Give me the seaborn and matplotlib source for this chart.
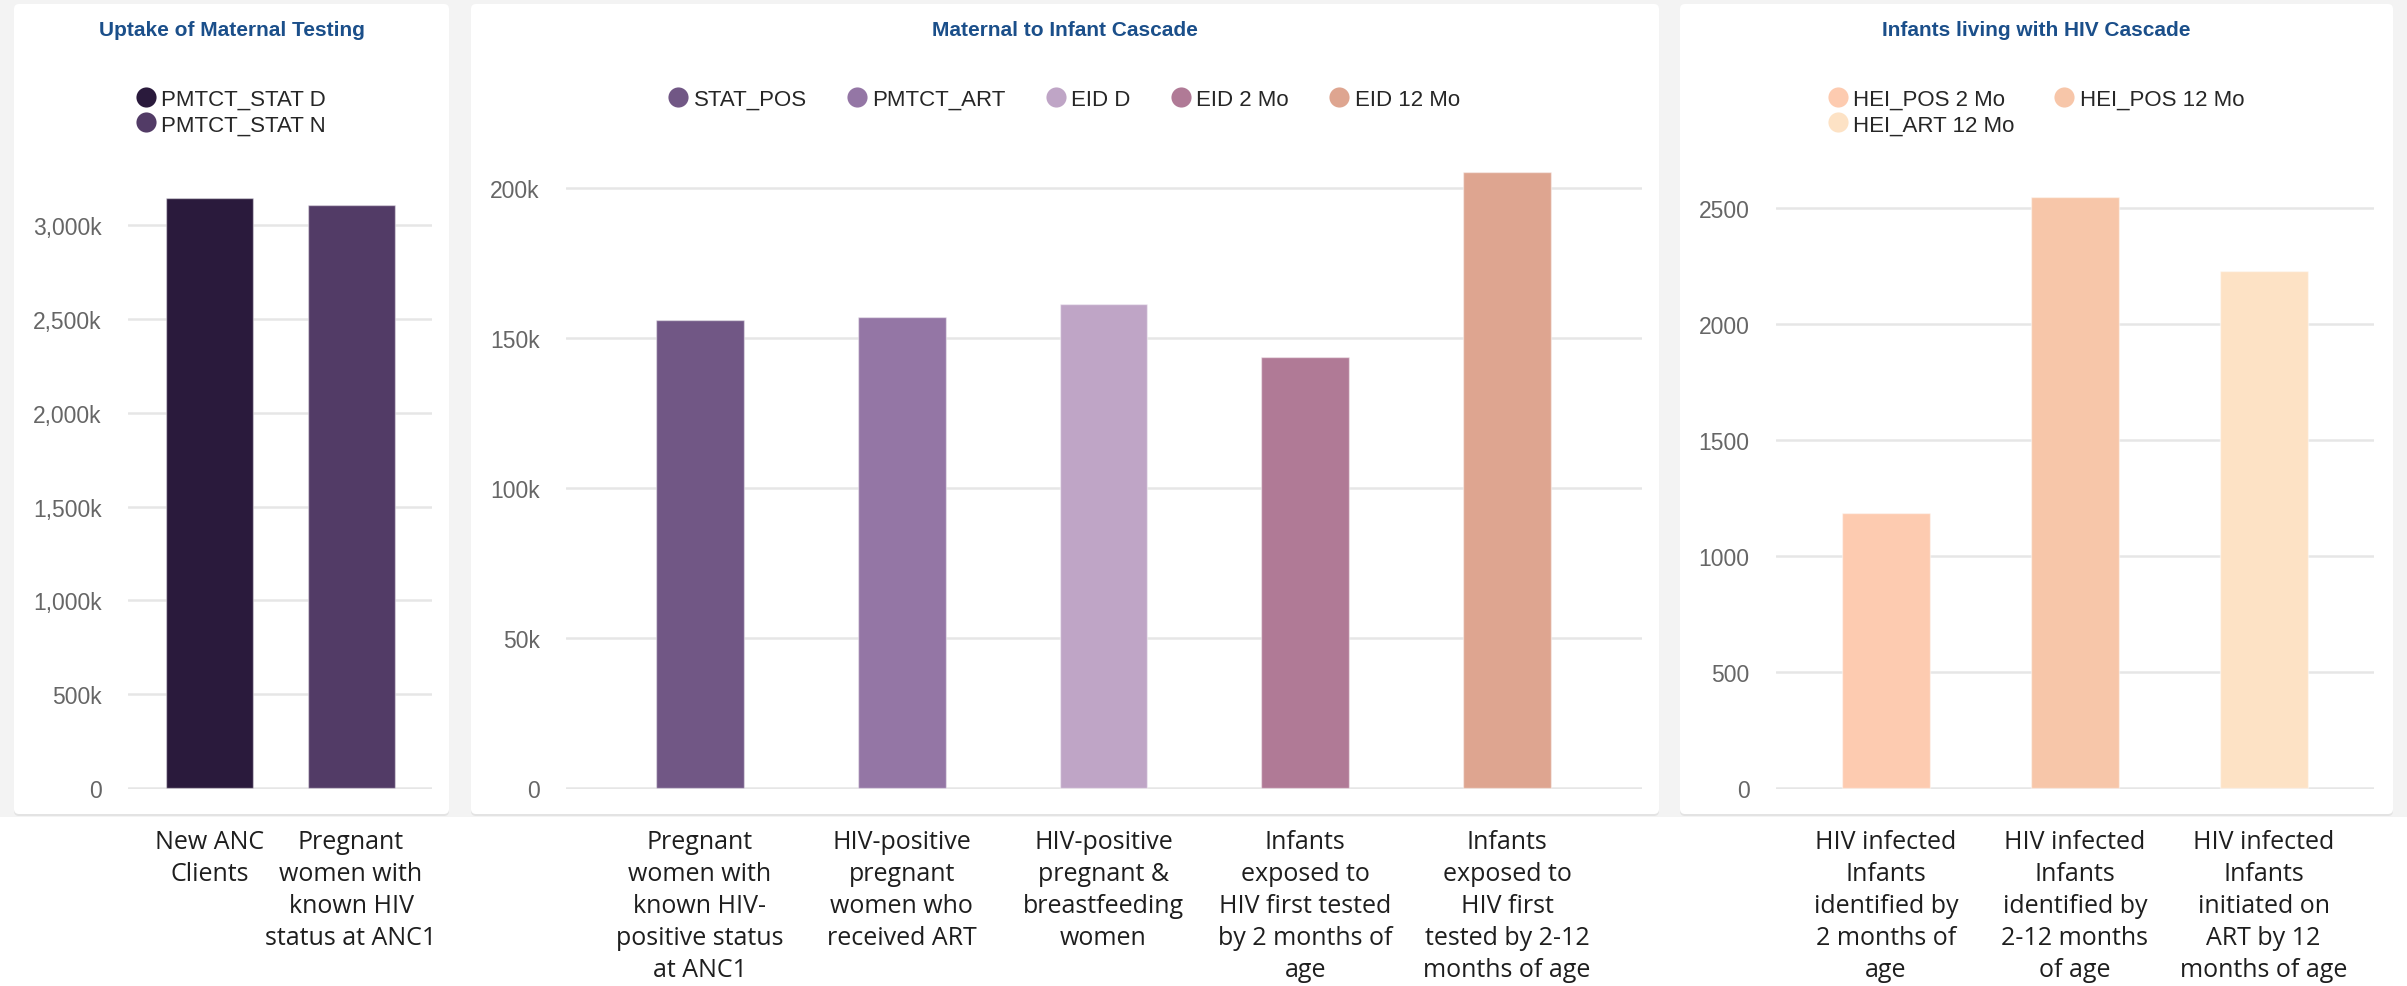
import matplotlib
matplotlib.use("Agg")
import matplotlib.pyplot as plt
import seaborn as sns
import pandas as pd
from matplotlib.patches import FancyBboxPatch, Rectangle
from matplotlib.lines import Line2D
from matplotlib.ticker import FuncFormatter, FixedLocator
from matplotlib.transforms import IdentityTransform

# ---- data -------------------------------------------------------------
uptake_title = "Uptake of Maternal Testing"
uptake_labels = ["New ANC\nClients",
                 "Pregnant\nwomen with\nknown HIV\nstatus at ANC1"]
uptake_series = ["PMTCT_STAT D", "PMTCT_STAT N"]
uptake_values = [3143000, 3106000]
uptake_colors = ["#2a1a3c", "#523b66"]
uptake_ticks = [0, 500000, 1000000, 1500000, 2000000, 2500000, 3000000]

cascade_title = "Maternal to Infant Cascade"
cascade_labels = ["Pregnant\nwomen with\nknown HIV-\npositive status\nat ANC1",
                  "HIV-positive\npregnant\nwomen who\nreceived ART",
                  "HIV-positive\npregnant &\nbreastfeeding\nwomen",
                  "Infants\nexposed to\nHIV first tested\nby 2 months of\nage",
                  "Infants\nexposed to\nHIV first\ntested by 2-12\nmonths of age"]
cascade_series = ["STAT_POS", "PMTCT_ART", "EID D", "EID 2 Mo", "EID 12 Mo"]
cascade_values = [156000, 157100, 161400, 143700, 205300]
cascade_colors = ["#715785", "#9476a5", "#bfa5c6", "#b07a96", "#dea590"]
cascade_ticks = [0, 50000, 100000, 150000, 200000]

infant_title = "Infants living with HIV Cascade"
infant_labels = ["HIV infected\nInfants\nidentified by\n2 months of\nage",
                 "HIV infected\nInfants\nidentified by\n2-12 months\nof age",
                 "HIV infected\nInfants\ninitiated on\nART by 12\nmonths of age"]
infant_series = ["HEI_POS 2 Mo", "HEI_POS 12 Mo", "HEI_ART 12 Mo"]
infant_values = [1187, 2547, 2230]
infant_colors = ["#fdcbb0", "#f7c6a9", "#fde2c5"]
infant_ticks = [0, 500, 1000, 1500, 2000, 2500]

# ---- canvas -------------------------------------------------------------
W, H, DPI = 2407, 987, 100
sns.set_theme(style="white")
plt.rcParams["font.family"] = ["Liberation Sans", "DejaVu Sans"]

fig = plt.figure(figsize=(W / DPI, H / DPI), dpi=DPI, facecolor="white")
px = IdentityTransform()

# dashboard backdrop and cards
fig.patches.append(Rectangle((0, H - 818), W, 818, transform=px,
                             facecolor="#f3f3f3", edgecolor="none", zorder=-10))
cards = [(14, 449), (471, 1659), (1680, 2393)]
for x0, x1 in cards:
    fig.patches.append(FancyBboxPatch((x0, H - 817), x1 - x0, 811, transform=px,
                                      boxstyle="round,pad=0,rounding_size=5",
                                      facecolor="#e3e3e3", edgecolor="none", zorder=-9))
    fig.patches.append(FancyBboxPatch((x0, H - 815), x1 - x0, 810, transform=px,
                                      boxstyle="round,pad=0,rounding_size=5",
                                      facecolor="white", edgecolor="none", zorder=-8))

AX_TOP, AX_BOTTOM = 165, 790


def add_axes(left, right):
    return fig.add_axes([left / W, 1 - AX_BOTTOM / H,
                         (right - left) / W, (AX_BOTTOM - AX_TOP) / H])


def k_fmt(v, _):
    return "0" if v == 0 else f"{int(round(v / 1000)):,}k"


def plain_fmt(v, _):
    return f"{int(v)}"


def panel(left, right, title, labels, series, values, colors, ticks, fmt,
          bar_width, xlim, ylim, legend_xy, ncol, order):
    ax = add_axes(left, right)
    ax.set_facecolor("none")
    df = pd.DataFrame({"label": labels, "series": series, "value": values})
    sns.barplot(data=df, x="label", y="value", hue="series",
                palette=dict(zip(series, colors)), hue_order=series,
                width=bar_width, dodge=False, saturation=1, legend=False,
                edgecolor=(1, 1, 1, 0.45), linewidth=1.0, ax=ax, zorder=3)
    ax.set_xlim(*xlim)
    ax.set_ylim(*ylim)
    ax.yaxis.set_major_locator(FixedLocator(ticks))
    ax.yaxis.set_major_formatter(FuncFormatter(fmt))
    ax.yaxis.grid(True, color="#e6e6e6", linewidth=1.8, zorder=0)
    ax.set_axisbelow(True)
    for s in ax.spines.values():
        s.set_visible(False)
    ax.set_xlabel("")
    ax.set_ylabel("")
    ax.tick_params(axis="y", length=0, pad=19, labelsize=16.5, labelcolor="#666666")
    ax.tick_params(axis="x", length=0, pad=29, labelsize=18, labelcolor="#1e1e1e")
    for t in ax.get_xticklabels():
        t.set_fontfamily(["Open Sans", "DejaVu Sans"])
        t.set_linespacing(1.36)
        t.set_multialignment("center")

    handles = [Line2D([], [], marker="o", linestyle="", markersize=14.5,
                      markerfacecolor=colors[i], markeredgewidth=0,
                      label=series[i]) for i in order]
    ax.legend(handles=handles, loc="center", ncol=ncol, frameon=False,
              bbox_to_anchor=(legend_xy[0] / W, 1 - legend_xy[1] / H),
              bbox_transform=fig.transFigure, fontsize=16,
              handlelength=0.9, handletextpad=0.25, columnspacing=1.8,
              labelspacing=0.2, borderaxespad=0, borderpad=0)
    return ax


panel(128, 432, uptake_title, uptake_labels, uptake_series, uptake_values,
      uptake_colors, uptake_ticks, k_fmt, 0.615, (-0.576, 1.572),
      (-5000, 3325000), (231, 113), 1, [0, 1])
panel(566, 1642, cascade_title, cascade_labels, cascade_series, cascade_values,
      cascade_colors, cascade_ticks, k_fmt, 0.436, (-0.664, 4.669),
      (-330, 208000), (1064, 100), 5, [0, 1, 2, 3, 4])
panel(1776, 2374, infant_title, infant_labels, infant_series, infant_values,
      infant_colors, infant_ticks, plain_fmt, 0.466, (-0.583, 2.585),
      (-4, 2690), (2036, 113), 2, [0, 2, 1])

# card titles
for (x0, x1), title in zip(cards, [uptake_title, cascade_title, infant_title]):
    fig.text((x0 + x1) / 2 / W, 1 - 30 / H, title, ha="center", va="center",
             fontsize=15, fontweight="bold", color="#1b4f8a")

fig.savefig("out.png", dpi=DPI, facecolor="white")
